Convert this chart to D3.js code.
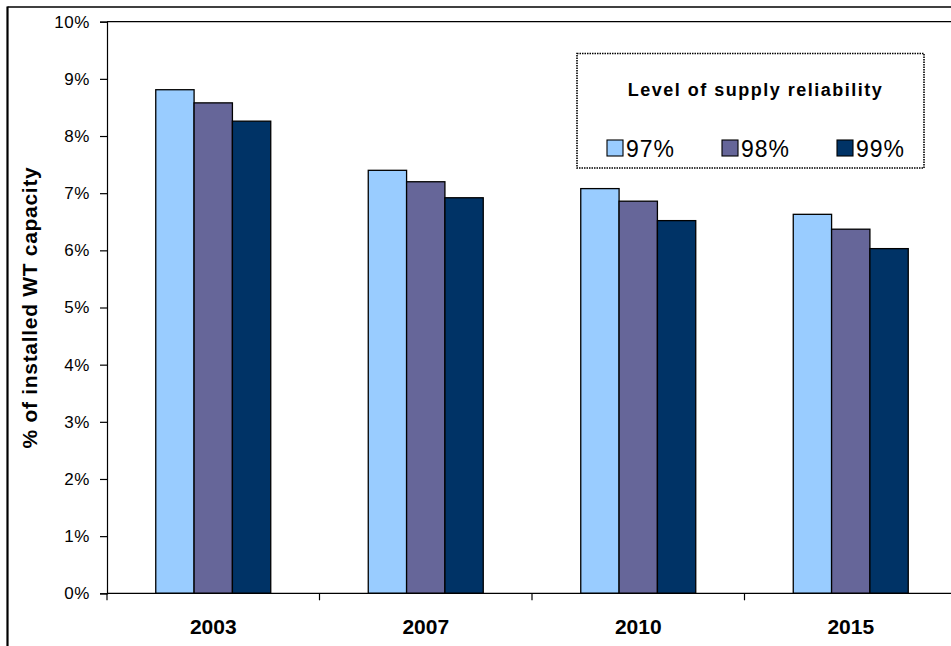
<!DOCTYPE html>
<html>
<head>
<meta charset="utf-8">
<script src="https://cdn.jsdelivr.net/npm/d3@7"></script>
<style>
  html, body { margin: 0; padding: 0; background: #fff; }
  svg { display: block; font-family: "Liberation Sans", Arial, sans-serif; }
</style>
</head>
<body>
<svg id="chart" width="951" height="646"></svg>
<script>
// Years on the category axis
const years = ["2003", "2007", "2010", "2015"];
// Reliability levels (one bar per level in each year)
const levels = ["97%", "98%", "99%"];
// Share of installed wind turbine capacity, in %, per level
const values97 = [8.81, 7.40, 7.08, 6.63];
const values98 = [8.58, 7.20, 6.86, 6.37];
const values99 = [8.26, 6.92, 6.52, 6.03];
const levelColors = ["#99CCFF", "#666699", "#003366"];
const yTicks = [0, 1, 2, 3, 4, 5, 6, 7, 8, 9, 10];

const seriesValues = [values97, values98, values99];
const rows = years.map((yr, i) => ({
  year: yr,
  bars: levels.map((lv, j) => ({ level: lv, idx: j, value: seriesValues[j][i] }))
}));

const svg = d3.select("#chart");

const plot = { left: 107, top: 21.7, bottom: 593.3, right: 957 };

const x0 = d3.scaleBand().domain(years).range([plot.left, plot.right]).padding(0);
const x1 = d3.scaleBand().domain(levels).range([0, x0.bandwidth()])
  .paddingInner(0).paddingOuter(1.272);
const y = d3.scaleLinear().domain([0, 10]).range([plot.bottom, plot.top]);
const color = d3.scaleOrdinal().domain(levels).range(levelColors);

// Outer frame (left and top edges)
svg.append("line").attr("x1", 7.5).attr("x2", 7.5).attr("y1", 6.5).attr("y2", 646)
  .attr("stroke", "#000").attr("stroke-width", 2.2);
svg.append("line").attr("x1", 7.5).attr("x2", 951).attr("y1", 7).attr("y2", 7)
  .attr("stroke", "#000").attr("stroke-width", 1.6);

// Plot area top border
svg.append("line").attr("x1", plot.left).attr("x2", 951).attr("y1", y(10)).attr("y2", y(10))
  .attr("stroke", "#000").attr("stroke-width", 1.2);

// Bars
const groups = svg.append("g").selectAll("g").data(rows).join("g")
  .attr("transform", d => `translate(${x0(d.year)},0)`);
groups.selectAll("rect").data(d => d.bars).join("rect")
  .attr("x", d => x1(d.level))
  .attr("y", d => y(d.value))
  .attr("width", x1.bandwidth())
  .attr("height", d => y(0) - y(d.value))
  .attr("fill", d => color(d.level))
  .attr("stroke", "#000")
  .attr("stroke-width", 1.3);

// Y axis
const yAxis = svg.append("g").attr("transform", `translate(${plot.left},0)`)
  .call(d3.axisLeft(y).tickValues(yTicks).tickSize(7).tickPadding(10).tickFormat(d => d + "%"));
yAxis.select(".domain").attr("stroke", "#000").attr("stroke-width", 1.2);
yAxis.selectAll(".tick line").attr("stroke", "#000").attr("stroke-width", 1.2);
yAxis.selectAll(".tick text").attr("font-size", 17).attr("letter-spacing", 0.6)
  .attr("font-family", "Liberation Sans, Arial, sans-serif").attr("fill", "#000");

// X axis: ticks sit on the category boundaries
const xAxisG = svg.append("g").attr("transform", `translate(0,${plot.bottom})`);
xAxisG.append("line").attr("x1", plot.left).attr("x2", 951).attr("y1", 0).attr("y2", 0)
  .attr("stroke", "#000").attr("stroke-width", 1.2);
xAxisG.selectAll("line.tk").data(years).join("line").attr("class", "tk")
  .attr("x1", d => x0(d)).attr("x2", d => x0(d)).attr("y1", 0).attr("y2", 7)
  .attr("stroke", "#000").attr("stroke-width", 1.2);
xAxisG.selectAll("text").data(years).join("text")
  .attr("x", d => x0(d) + x0.bandwidth() / 2)
  .attr("y", 40.5)
  .attr("text-anchor", "middle")
  .attr("font-size", 21).attr("font-weight", "bold")
  .text(d => d);

// Y axis title
svg.append("text")
  .attr("transform", `translate(37,${(plot.top + plot.bottom) / 2}) rotate(-90)`)
  .attr("text-anchor", "middle")
  .attr("font-size", 21).attr("font-weight", "bold").attr("letter-spacing", 0.7)
  .text("% of installed WT capacity");

// Legend
const legend = svg.append("g");
legend.append("rect").attr("x", 577).attr("y", 53.5).attr("width", 347).attr("height", 114.5)
  .attr("fill", "#fff").attr("stroke", "#000").attr("stroke-width", 1.6)
  .attr("stroke-dasharray", "1.5,1");
legend.append("text").attr("x", 755.5).attr("y", 96)
  .attr("text-anchor", "middle").attr("font-size", 18).attr("font-weight", "bold")
  .attr("letter-spacing", 1.5)
  .text("Level of supply reliability");
const items = legend.selectAll("g.item").data(levels).join("g").attr("class", "item")
  .attr("transform", (d, i) => `translate(${607 + i * 115},140)`);
items.append("rect").attr("width", 16).attr("height", 16)
  .attr("fill", d => color(d)).attr("stroke", "#000").attr("stroke-width", 1.1);
items.append("text").attr("x", 19).attr("y", 16.7)
  .attr("font-size", 23).attr("letter-spacing", 1)
  .text(d => d);
</script>
</body>
</html>
